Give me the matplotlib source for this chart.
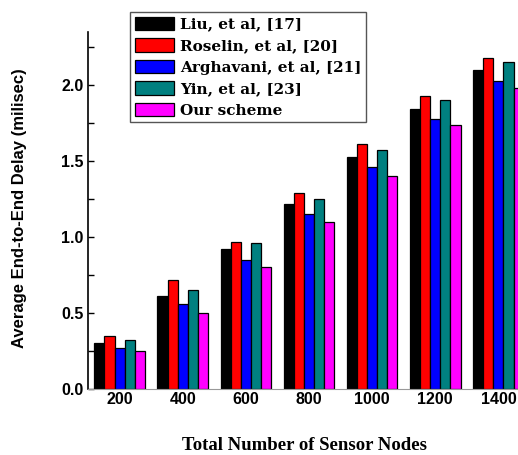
import numpy as np
from matplotlib import pyplot as plt

nodes = ["200", "400", "600", "800", "1000", "1200", "1400"]
liu = [0.30, 0.61, 0.92, 1.22, 1.53, 1.84, 2.10]
roselin = [0.35, 0.72, 0.97, 1.29, 1.61, 1.93, 2.18]
arghavani = [0.27, 0.56, 0.85, 1.15, 1.46, 1.78, 2.03]
yin = [0.32, 0.65, 0.96, 1.25, 1.57, 1.90, 2.15]
ours = [0.25, 0.50, 0.80, 1.10, 1.40, 1.74, 1.98]

series = [
    ("Liu, et al, [17]", liu, "black"),
    ("Roselin, et al, [20]", roselin, "red"),
    ("Arghavani, et al, [21]", arghavani, "blue"),
    ("Yin, et al, [23]", yin, "#008080"),
    ("Our scheme", ours, "magenta"),
]

W, H = 518, 455
fig = plt.figure(figsize=(W / 100, H / 100), dpi=100)
# axes runs past the right edge of the figure, like the original
ax = fig.add_axes([88 / W, (H - 389) / H, (530 - 88) / W, (389 - 32) / H])

x = np.arange(len(nodes))
bw = 0.16
for i, (name, vals, col) in enumerate(series):
    ax.bar(x + (i - 2) * bw, vals, bw, color=col, edgecolor="black",
           linewidth=0.9, label=name)

ax.set_xlim(-0.5, len(nodes) - 0.5)
ax.set_ylim(0, 2.35)
ax.set_yticks(np.arange(0, 2.01, 0.5))
ax.set_yticks(np.arange(0, 2.3, 0.25), minor=True)
ax.set_xticks(x)
ax.set_xticklabels(nodes)
for lab in ax.get_xticklabels() + ax.get_yticklabels():
    lab.set_family("Liberation Sans")
    lab.set_weight("bold")
    lab.set_fontsize(11.5)
ax.tick_params(axis="y", which="both", direction="in", length=4, width=1, pad=3)
ax.tick_params(axis="x", length=0, pad=2)

ax.spines["top"].set_visible(False)
ax.spines["right"].set_visible(False)
ax.spines["left"].set_linewidth(1.2)
ax.spines["bottom"].set_color("#999999")
ax.spines["bottom"].set_linewidth(0.8)

fig.text(20 / W, 1 - 208 / H, "Average End-to-End Delay (milisec)", rotation=90,
         ha="center", va="center", family="Liberation Sans", weight="bold", fontsize=12)
fig.text(304 / W, 1 - 445 / H, "Total Number of Sensor Nodes", ha="center",
         va="center", family="Liberation Serif", weight="bold", fontsize=13.5)

leg = fig.legend(loc="upper left", bbox_to_anchor=(130 / W, 1 - 12 / H),
                 prop={"family": "DejaVu Serif", "weight": "bold", "size": 11},
                 fancybox=False, edgecolor="#555555", framealpha=1,
                 handlelength=2.6, handleheight=1.0, labelspacing=0.42,
                 handletextpad=0.4, borderpad=0.3, borderaxespad=0)
leg.get_frame().set_linewidth(1.0)

fig.savefig("out.png", dpi=100)
